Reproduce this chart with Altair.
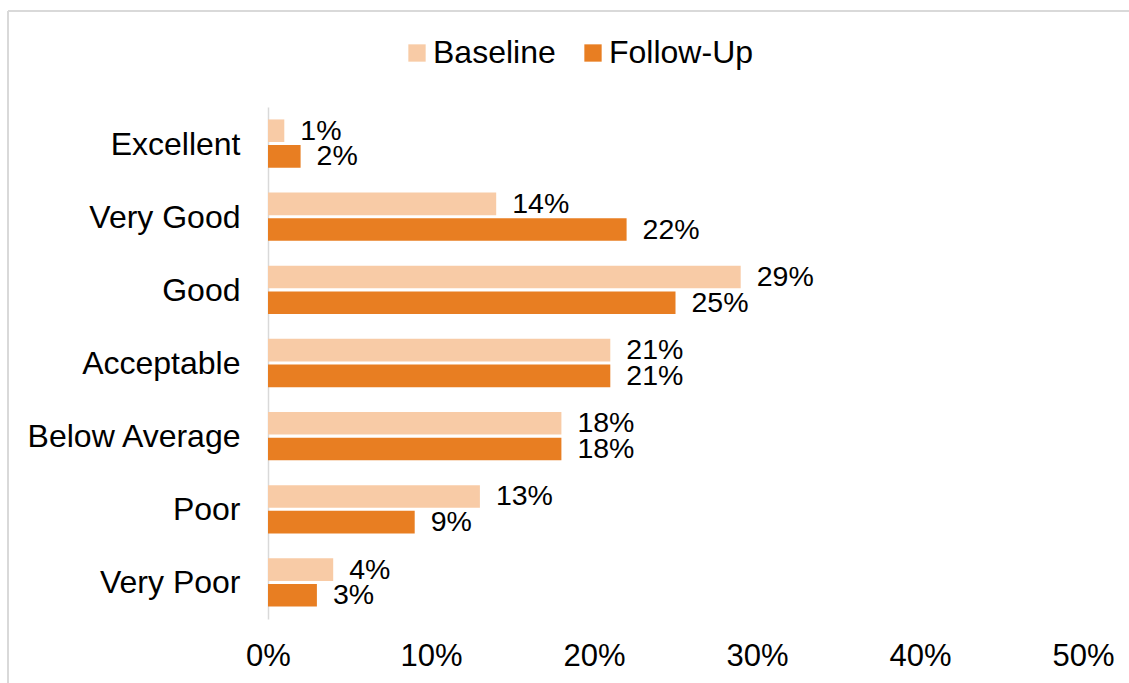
import altair as alt
import pandas as pd

categories = ["Excellent", "Very Good", "Good", "Acceptable", "Below Average", "Poor", "Very Poor"]
baseline = [1, 14, 29, 21, 18, 13, 4]
follow_up = [2, 22, 25, 21, 18, 9, 3]
series = ["Baseline", "Follow-Up"]
colors = ["#F8CBA6", "#E87E22"]
x_ticks = [0, 0.1, 0.2, 0.3, 0.4, 0.5]

rows = []
for c, b, f in zip(categories, baseline, follow_up):
    rows.append({"Category": c, "Period": "Baseline", "Value": b / 100})
    rows.append({"Category": c, "Period": "Follow-Up", "Value": f / 100})
df = pd.DataFrame(rows)

FONT = "Liberation Sans"

y_enc = alt.Y("Category:N", sort=categories,
              scale=alt.Scale(paddingInner=0.34, paddingOuter=0.17),
              axis=alt.Axis(title=None, ticks=False, domainColor="#D9D9D9", domainWidth=1.5,
                            labelFontSize=32, labelFont=FONT, labelColor="#000000",
                            labelPadding=28, labelLimit=0, labelOffset=1))
yoff = alt.YOffset("Period:N", sort=series, scale=alt.Scale(paddingInner=0.12, paddingOuter=0))
x_enc = alt.X("Value:Q", scale=alt.Scale(domain=[0, 0.5]),
              axis=alt.Axis(title=None, values=x_ticks, format=".0%", grid=False, domain=False,
                            ticks=False, labelFontSize=31, labelFont=FONT, labelColor="#000000",
                            labelPadding=22, labelFlush=False, labelBound=False))

bars = alt.Chart(df).mark_bar().encode(
    y=y_enc,
    yOffset=yoff,
    x=x_enc,
    color=alt.Color("Period:N", sort=series,
                    scale=alt.Scale(domain=series, range=colors),
                    legend=alt.Legend(title=None, orient="none", direction="horizontal",
                                      legendX=133, legendY=-70, symbolType="square",
                                      symbolSize=300, symbolStrokeWidth=0,
                                      labelFontSize=32, labelFont=FONT, labelColor="#000000",
                                      labelOffset=0, columnPadding=21)),
)

labels = alt.Chart(df).mark_text(align="left", baseline="middle", dx=16, fontSize=28.5,
                                 font=FONT, color="#000000").encode(
    y=alt.Y("Category:N", sort=categories),
    yOffset=alt.YOffset("Period:N", sort=series),
    x=alt.X("Value:Q"),
    text=alt.Text("Value:Q", format=".0%"),
)

border_top = alt.Chart(df).mark_rule(color="#D9D9D9", strokeWidth=1.5).encode(
    x=alt.value(-260), x2=alt.value(900), y=alt.value(-96))
border_left = alt.Chart(df).mark_rule(color="#D9D9D9", strokeWidth=1.5).encode(
    x=alt.value(-260), y=alt.value(-96), y2=alt.value(600))

chart = alt.layer(border_top, border_left, bars, labels).properties(
    width=815, height=512,
    autosize=alt.AutoSizeParams(type="none"),
    padding={"left": 268, "top": 107, "right": 46, "bottom": 64},
    background="#FFFFFF",
).configure_view(stroke=None)

chart.save("out.html", embed_options={"renderer": "svg", "actions": False})
